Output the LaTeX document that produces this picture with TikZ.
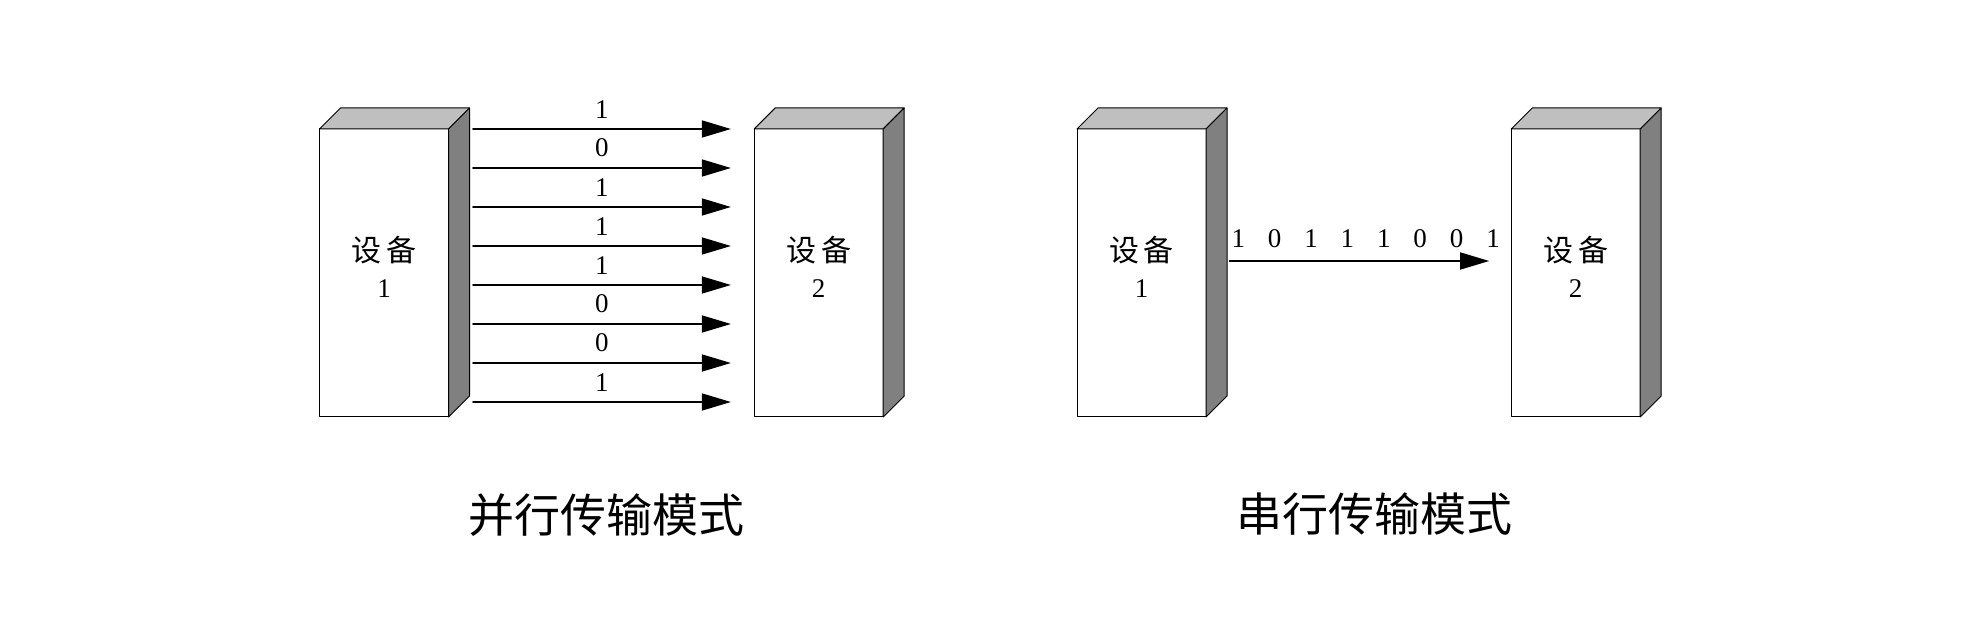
\documentclass[tikz,border=0pt]{standalone}
\usepackage{fontspec}
\setmainfont{Liberation Serif}
\newfontfamily\cjk{Noto Sans CJK SC}
\usepackage{tikz}
\usetikzlibrary{arrows.meta}
\usetikzlibrary{calc}
\definecolor{topgray}{rgb}{0.75,0.75,0.75}
\definecolor{sidegray}{rgb}{0.5,0.5,0.5}
\tikzset{
devbox/.style={draw,fill=white,line width=0.5pt,minimum width=64.5pt,minimum height=144pt,inner sep=0pt,outer sep=0pt},
devtext/.style={inner sep=0pt,align=center,font=\fontsize{13.5pt}{17.75pt}\selectfont},
topface/.style={draw,fill=topgray,line width=0.5pt},
sideface/.style={draw,fill=sidegray,line width=0.5pt},
bitarrow/.style={-{Triangle[length=14.5pt,width=8.5pt]},line width=0.8pt},
bitlabel/.style={font=\fontsize{13.5pt}{16pt}\selectfont,inner sep=0pt},
modetitle/.style={font=\cjk\fontsize{23pt}{28pt}\selectfont}
}
\newcommand{\boxfaces}[1]{%
\filldraw[topface] (#1.north west) -- ++(21,-21) -- ($(#1.north east)+(21,-21)$) -- (#1.north east) -- cycle;
\filldraw[sideface] (#1.north east) -- ++(21,-21) -- ($(#1.south east)+(21,-21)$) -- (#1.south east) -- cycle;
}
\newcommand{\devname}{{\cjk\fontsize{15pt}{17.75pt}\selectfont 设\kern2.5pt 备}}

\begin{document}
\begin{tikzpicture}[line cap=round,line join=round,x=0.5pt,y=-0.5pt]
\useasboundingbox (0,0) rectangle (1981,635);
% parallel
\node[devbox] (par1) at (384,273) {};
\node[devbox] (par2) at (818.7,273) {};
\boxfaces{par1}
\boxfaces{par2}
\node[devtext] (par1txt) at ($(par1)+(0,-6)$) {\devname\\1};
\node[devtext] (par2txt) at ($(par2)+(0,-6)$) {\devname\\2};
\foreach \bit [count=\i from 0] in {1,0,1,1,1,0,0,1}
\draw[bitarrow] ($(par1.north east)+(24.5,39*\i)$) -- ($(par2.north west)+(-23.3,39*\i)$) node[midway,above=5pt,bitlabel] {\bit};
\node[modetitle] (partitle) at (606.5,515.5) {并行传输模式};
% serial
\node[devbox] (ser1) at (1141.5,273) {};
\node[devbox] (ser2) at (1575.7,273) {};
\boxfaces{ser1}
\boxfaces{ser2}
\node[devtext] (ser1txt) at ($(ser1)+(0,-6)$) {\devname\\1};
\node[devtext] (ser2txt) at ($(ser2)+(0,-6)$) {\devname\\2};
\draw[bitarrow] ($(ser1.north east)+(23.6,132)$) -- ($(ser2.north west)+(-22,132)$);
\node[bitlabel,anchor=south west] (serbits) at ($(ser1.north east)+(25.1,118.7)$) {\spaceskip=11.45pt\relax 1 0 1 1 1 0 0 1};
\node[modetitle] (sertitle) at (1374,514) {串行传输模式};
\end{tikzpicture}
\end{document}
